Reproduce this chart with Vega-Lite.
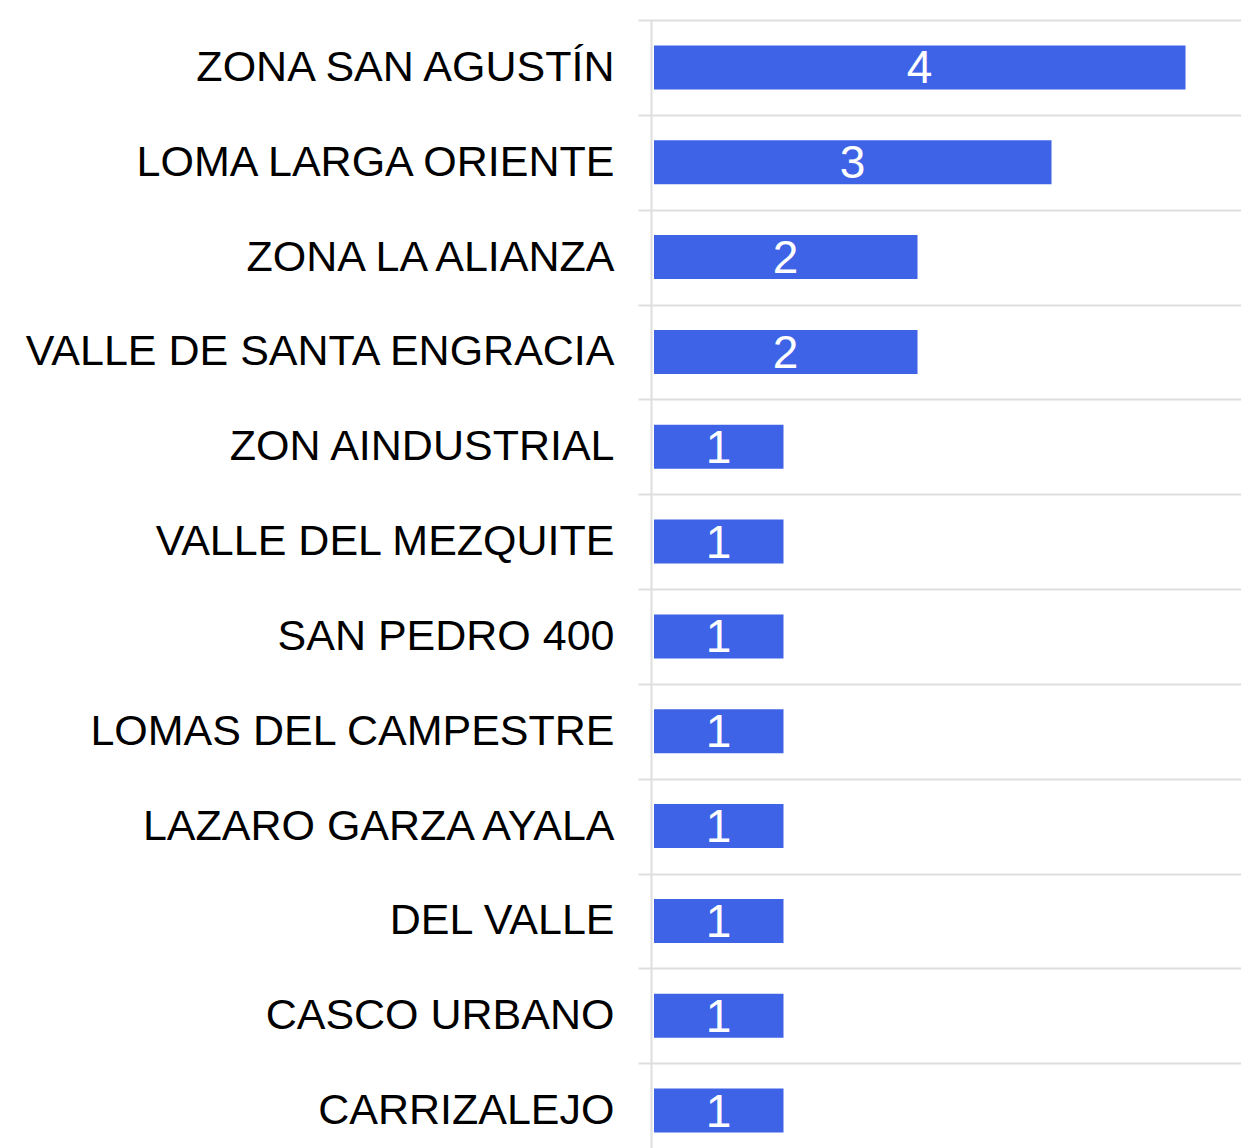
{
  "$schema": "https://vega.github.io/schema/vega-lite/v6.json",
  "width": 590,
  "height": 1138,
  "autosize": {"type": "none"},
  "padding": {"left": 651, "top": 20, "right": 0, "bottom": 0},
  "background": "white",
  "config": {"view": {"stroke": null}, "font": "Liberation Sans"},
  "data": {"values": [
    {"zona": "ZONA SAN AGUSTÍN", "casos": 4},
    {"zona": "LOMA LARGA ORIENTE", "casos": 3},
    {"zona": "ZONA LA ALIANZA", "casos": 2},
    {"zona": "VALLE DE SANTA ENGRACIA", "casos": 2},
    {"zona": "ZON AINDUSTRIAL", "casos": 1},
    {"zona": "VALLE DEL MEZQUITE", "casos": 1},
    {"zona": "SAN PEDRO 400", "casos": 1},
    {"zona": "LOMAS DEL CAMPESTRE", "casos": 1},
    {"zona": "LAZARO GARZA AYALA", "casos": 1},
    {"zona": "DEL VALLE", "casos": 1},
    {"zona": "CASCO URBANO", "casos": 1},
    {"zona": "CARRIZALEJO", "casos": 1}
  ]},
  "encoding": {
    "y": {
      "field": "zona", "type": "nominal", "sort": null,
      "scale": {"paddingInner": 0, "paddingOuter": 0},
      "axis": {
        "title": null, "tickBand": "extent", "grid": true,
        "gridColor": "#dedede", "gridWidth": 2,
        "domainColor": "#dedede", "domainWidth": 2,
        "tickColor": "#dedede", "tickWidth": 2, "tickSize": 13,
        "labelPadding": 24, "labelFontSize": 43, "labelColor": "#000000",
        "labelLimit": 0, "labelFont": "Liberation Sans"
      }
    }
  },
  "layer": [
    {
      "mark": {"type": "bar", "color": "#3f63e7", "height": {"band": 0.464}, "x2Offset": 4.5},
      "encoding": {
        "x": {"field": "casos", "type": "quantitative",
              "scale": {"domain": [0.0112, 4.414], "nice": false, "zero": false},
              "axis": null},
        "x2": {"datum": 0}
      }
    },
    {
      "mark": {"type": "text", "color": "#ffffff", "fontSize": 46, "baseline": "middle", "align": "center", "dy": 2, "dx": 2},
      "encoding": {
        "x": {"field": "casos", "type": "quantitative", "stack": "zero", "bandPosition": 0.5},
        "text": {"field": "casos", "type": "quantitative"}
      }
    }
  ]
}
